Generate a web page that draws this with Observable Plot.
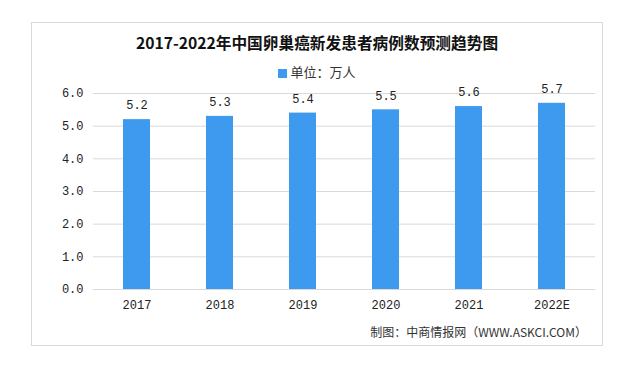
<!DOCTYPE html>
<html>
<head>
<meta charset="utf-8">
<script src="https://cdn.jsdelivr.net/npm/d3@7"></script>
<script src="https://cdn.jsdelivr.net/npm/@observablehq/plot@0.6"></script>
<style>
  body { margin: 0; background: #fff; }
  #wrap { position: relative; width: 643px; height: 372px; overflow: hidden; font-family: "Liberation Mono", "Noto Sans CJK SC", sans-serif; color: #222; }
  #frame { position: absolute; left: 31px; top: 22px; width: 572px; height: 324px; border: 1px solid #d9d9d9; box-sizing: border-box; }
  #title { position: absolute; left: 0; width: 634px; top: 32px; text-align: center; font-family: "Noto Sans CJK SC", sans-serif; font-weight: bold; font-size: 15.7px; line-height: 22px; color: #111; }
  #legend { position: absolute; left: 0; width: 634px; top: 63px; text-align: center; font-family: "Noto Sans CJK SC", sans-serif; font-size: 13px; line-height: 18px; color: #333; }
  #legend .sw { display: inline-block; width: 9px; height: 9px; background: #3D9AEF; margin-right: 3px; vertical-align: -1px; }
  #caption { position: absolute; right: 56px; top: 323px; font-family: "Noto Sans CJK SC", sans-serif; font-size: 12px; line-height: 18px; color: #333; }
  #chart { position: absolute; left: 0; top: 0; }
</style>
</head>
<body>
<div id="wrap">
  <div id="frame"></div>
  <div id="chart"></div>
  <div id="title">2017-2022年中国卵巢癌新发患者病例数预测趋势图</div>
  <div id="legend"><span class="sw"></span>单位：万人</div>
  <div id="caption">制图：中商情报网（WWW.ASKCI.COM）</div>
</div>
<script>
const years = ["2017", "2018", "2019", "2020", "2021", "2022E"];
const values = [5.2, 5.3, 5.4, 5.5, 5.6, 5.7];
const yTicks = [0, 1, 2, 3, 4, 5, 6];

const data = years.map((y, i) => ({year: y, value: values[i]}));

const chart = Plot.plot({
  width: 643,
  height: 372,
  marginLeft: 93,
  marginRight: 48,
  marginTop: 93,
  marginBottom: 83,
  style: {fontFamily: "'Liberation Mono', 'Noto Sans CJK SC', monospace", fontSize: "12px", color: "#333", background: "transparent"},
  x: {domain: years, paddingInner: 0.68, paddingOuter: 0.34, label: null},
  y: {domain: [0, 6], label: null},
  marks: [
    Plot.ruleY(yTicks, {stroke: "#d9d9d9", strokeWidth: 1}),
    Plot.barY(data, {x: "year", y: "value", fill: "#3D9AEF"}),
    Plot.text(data, {x: "year", y: "value", text: d => d.value.toFixed(1), dy: -14, fill: "#222", fontSize: 12}),
    Plot.axisY({ticks: yTicks, tickFormat: d => d.toFixed(1), tickSize: 0, tickPadding: 10, label: null, fill: "#222"}),
    Plot.axisX({tickSize: 0, tickPadding: 11, label: null, fill: "#222"})
  ]
});
document.getElementById("chart").appendChild(chart);
</script>
</body>
</html>
